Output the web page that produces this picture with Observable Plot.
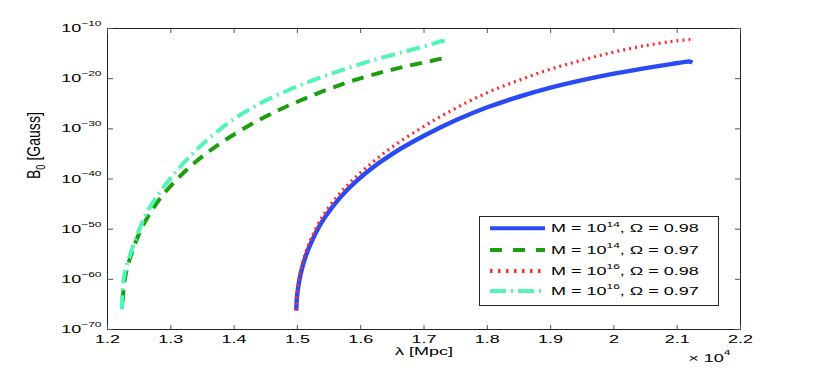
<!DOCTYPE html>
<html><head><meta charset="utf-8">
<script src="https://cdn.jsdelivr.net/npm/d3@7"></script>
<script src="https://cdn.jsdelivr.net/npm/@observablehq/plot@0.6"></script>
<style>
html,body{margin:0;padding:0;background:#fff;}
#wrap{position:relative;width:817px;height:371px;overflow:hidden;}
#legend{position:absolute;left:479px;top:216px;}
</style></head><body><div id="wrap"></div>
<script>
// ---- data (λ in units of 10^4 Mpc, B0 as log10 exponent) ----
const blueLambda = [1.4983,1.4990,1.5010,1.5050,1.5125,1.5230,1.5370,1.5550,1.5800,1.6100,1.6500,1.7000,1.7500,1.8000,1.8500,1.9000,1.9500,2.0000,2.0500,2.0900,2.1100,2.1200,2.1240];
const blueLogB   = [-66.2, -64.0, -61.8, -59.0, -55.6, -52.3, -48.9, -45.6, -42.0, -38.6, -35.0, -31.4, -28.3, -25.7, -23.6, -21.8, -20.3, -19.0, -17.9, -17.1, -16.7, -16.6, -16.8];
const greenLambda = [1.2240,1.2250,1.2270,1.2300,1.2350,1.2420,1.2510,1.2620,1.2750,1.2900,1.3080,1.3300,1.3560,1.3850,1.4200,1.4600,1.5000,1.5450,1.5900,1.6400,1.6800,1.7100,1.7250,1.7300,1.7330];
const greenLogB   = [-64.5, -62.5, -60.3, -58.3, -56.0, -53.4, -50.6, -47.9, -45.3, -42.8, -40.3, -37.6, -34.9, -32.3, -29.6, -26.9, -24.6, -22.3, -20.3, -18.5, -17.3, -16.5, -16.1, -16.1, -16.4];
const redLambda = [1.4983,1.4990,1.5010,1.5050,1.5125,1.5230,1.5370,1.5550,1.5800,1.6100,1.6500,1.7000,1.7500,1.8000,1.8500,1.9000,1.9500,2.0000,2.0500,2.0900,2.1100,2.1200,2.1240];
const redLogB   = [-66.2, -63.7, -61.3, -58.4, -54.8, -51.5, -48.0, -44.7, -41.1, -37.6, -33.6, -29.5, -25.9, -22.8, -20.3, -18.1, -16.3, -14.7, -13.4, -12.6, -12.3, -12.2, -12.3];
const cyanLambda = [1.2229,1.2235,1.2260,1.2300,1.2360,1.2430,1.2510,1.2600,1.2720,1.2870,1.3050,1.3250,1.3480,1.3750,1.4050,1.4400,1.4800,1.5250,1.5700,1.6200,1.6700,1.7050,1.7200,1.7280,1.7330];
const cyanLogB   = [-66.0, -62.5, -59.5, -57.3, -55.0, -52.4, -49.8, -47.2, -44.6, -41.9, -39.0, -36.2, -33.3, -30.4, -27.6, -25.0, -22.6, -20.3, -18.3, -16.3, -14.6, -13.4, -12.8, -12.5, -12.6];

const seriesNames = ["M = 10^{14}, Ω = 0.98","M = 10^{14}, Ω = 0.97","M = 10^{16}, Ω = 0.98","M = 10^{16}, Ω = 0.97"];
const xTicks = [1.2,1.3,1.4,1.5,1.6,1.7,1.8,1.9,2.0,2.1,2.2];
const xTickLabels = ["1.2","1.3","1.4","1.5","1.6","1.7","1.8","1.9","2","2.1","2.2"];
const yTickExps = [-70,-60,-50,-40,-30,-20,-10];
const xLabel = "λ [Mpc]";
const yLabel = "B_{0} [Gauss]";
const xMultiplier = "× 10^{4}";

// ---- styles (kept separate from data) ----
const styles = [
  {stroke:"#2a4bf4", width:4.5, dash:null,        legendDash:null},
  {stroke:"#1c9e0e", width:4,   dash:"12,8",      legendDash:"12,11"},
  {stroke:"#ff2b2b", width:3.2, dash:"2,4",       legendDash:"2.5,5.5"},
  {stroke:"#52f5b6", width:4,   dash:"14,5,2,5",  legendDash:"16,5,2,5"}
];
const SQ = 0.62; // vertical squash of glyphs in reference
const FS = 18;

const raw = [[blueLambda,blueLogB],[greenLambda,greenLogB],[redLambda,redLogB],[cyanLambda,cyanLogB]];
const rows = raw.map(([L,E],k) => L.map((l,i) => ({series: seriesNames[k], x: l, y: Math.pow(10, E[i])})));
const yTickValues = yTickExps.map(e => Math.pow(10, e));
const expLabel = d => "10^{\u2212" + Math.abs(Math.round(Math.log10(d))) + "}";

const font = "'Liberation Sans', Arial, Helvetica, sans-serif";
const plot = Plot.plot({
  width: 817, height: 371,
  marginLeft: 107, marginRight: 77, marginTop: 28, marginBottom: 42,
  style: {fontFamily: font, fontSize: FS + "px", background: "white", color: "#000", overflow: "visible"},
  x: {domain: [1.2, 2.2]},
  y: {type: "log", domain: [1e-70, 1e-10]},
  marks: [
    ...rows.map((r,k) => Plot.line(r, {x:"x", y:"y", stroke: styles[k].stroke, strokeWidth: styles[k].width,
        strokeDasharray: styles[k].dash, curve: "catmull-rom", strokeLinecap: "butt", strokeLinejoin: "round"})),
    Plot.frame({stroke: "#222", strokeWidth: 1}),
    Plot.axisX({ticks: xTicks, tickSize: -4, tickPadding: 10, stroke: "#555", fontSize: FS, fontFamily: font,
        tickFormat: d => xTickLabels[xTicks.findIndex(t => Math.abs(t - d) < 1e-9)], label: null}),
    Plot.axisX({anchor: "top", ticks: xTicks, tickSize: -4, stroke: "#555", tickFormat: () => "", label: null}),
    Plot.axisY({ticks: yTickValues, tickSize: -6, tickPadding: 12, stroke: "#555", fontSize: FS, fontFamily: font,
        tickFormat: expLabel, label: null}),
    Plot.axisY({anchor: "right", ticks: yTickValues, tickSize: -6, stroke: "#555", tickFormat: () => "", label: null}),
    Plot.text([xLabel], {frameAnchor: "bottom", dy: 25, text: d => d, fontSize: FS, fontFamily: font}),
    Plot.text([xMultiplier], {frameAnchor: "bottom-right", dx: -10, dy: 32, textAnchor: "end", text: d => d, fontSize: FS, fontFamily: font}),
    Plot.text([yLabel], {frameAnchor: "left", dx: -73, rotate: -90, text: d => d, fontSize: FS, fontFamily: font})
  ]
});

const NS = "http://www.w3.org/2000/svg";
function richText(t, supSize, raise, subDrop) {
  const s = t.textContent;
  if (!/[\^_]\{/.test(s)) return;
  while (t.firstChild) t.removeChild(t.firstChild);
  const re = /(\^|_)\{([^}]*)\}/g;
  let last = 0, m, pending = 0;
  const add = (txt, opts) => {
    const sp = document.createElementNS(NS, "tspan");
    sp.textContent = txt;
    if (opts.size) sp.setAttribute("font-size", opts.size);
    if (opts.dy) sp.setAttribute("dy", opts.dy);
    t.appendChild(sp);
  };
  while ((m = re.exec(s))) {
    if (m.index > last) { add(s.slice(last, m.index), {dy: pending}); pending = 0; }
    const off = m[1] === "^" ? -raise : subDrop;
    add(m[2], {size: supSize, dy: off + pending});
    pending = -off;
    last = re.lastIndex;
  }
  if (last < s.length) add(s.slice(last), {dy: pending});
}
plot.querySelectorAll("text").forEach(t => {
  const tr = t.getAttribute("transform") || "";
  const rotated = /rotate/.test(tr);
  t.setAttribute("transform", tr + (rotated ? " scale(0.78,1)" : ` scale(1,${SQ})`));
  richText(t, 12, 10, 5);
});
document.getElementById("wrap").appendChild(plot);

// ---- legend overlay ----
const lg = d3.select("#wrap").append("svg").attr("id","legend").attr("width",241).attr("height",91);
lg.append("rect").attr("x",0.5).attr("y",0.5).attr("width",239).attr("height",89).attr("fill","white").attr("stroke","#222");
const rowY = [12.3, 34, 55, 75];
seriesNames.forEach((name,k) => {
  lg.append("line").attr("x1",11).attr("x2",66).attr("y1",rowY[k]).attr("y2",rowY[k])
    .attr("stroke",styles[k].stroke).attr("stroke-width", 4)
    .attr("stroke-dasharray", styles[k].legendDash);
  const t = lg.append("text").attr("transform",`translate(72,${rowY[k]}) scale(1,${SQ})`)
    .attr("dy","0.35em").attr("font-family",font).attr("font-size",FS).text(name);
  richText(t.node(), 12, 9, 5);
});
</script></body></html>
